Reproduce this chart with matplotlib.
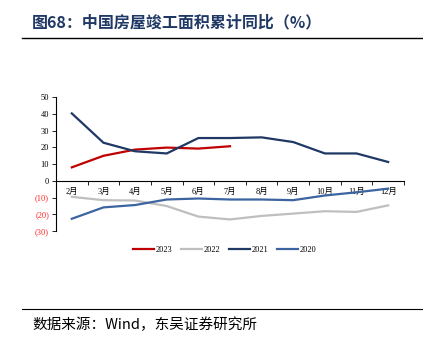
import matplotlib
matplotlib.use("Agg")
import matplotlib.pyplot as plt
from matplotlib.lines import Line2D

months = ["2月", "3月", "4月", "5月", "6月", "7月", "8月", "9月", "10月", "11月", "12月"]
s2023 = [8.0, 14.9, 18.6, 19.8, 19.2, 20.6]
s2022 = [-9.6, -11.6, -11.8, -15.1, -21.4, -23.1, -21.0, -19.6, -18.2, -18.6, -14.7]
s2021 = [40.2, 22.7, 17.6, 16.3, 25.5, 25.5, 25.9, 23.1, 16.3, 16.3, 11.2]
s2020 = [-22.7, -15.9, -14.5, -11.2, -10.6, -11.2, -11.2, -11.6, -8.8, -6.9, -4.7]
series = [("2023", s2023, "#c00000"), ("2022", s2022, "#bfbfbf"),
          ("2021", s2021, "#1f3864"), ("2020", s2020, "#3c64a0")]
yticks = [50, 40, 30, 20, 10, 0, -10, -20, -30]

serif = ["Liberation Serif", "Noto Sans CJK SC"]
cjk = ["Noto Sans CJK SC", "DejaVu Sans"]

fig = plt.figure(figsize=(4.23, 3.49), dpi=100)
ax = fig.add_axes([56/423, 1-231/349, (404-56)/423, (231-97)/349])

x = list(range(len(months)))
for name, vals, col in series:
    ax.plot(x[:len(vals)], vals, color=col, lw=1.6, solid_joinstyle="miter")

ax.set_xlim(-0.5, len(months) - 0.5)
ax.set_ylim(-30, 50)
for s in ["top", "right"]:
    ax.spines[s].set_visible(False)
ax.spines["bottom"].set_position(("data", 0))
ax.spines["bottom"].set_color("black")
ax.spines["bottom"].set_linewidth(0.8)
ax.spines["left"].set_linewidth(0.8)

ax.set_xticks(x)
ax.set_xticklabels(months, fontsize=6, family=serif)
ax.tick_params(axis="x", which="major", length=0, pad=5)
ax.set_xticks([i - 0.5 for i in range(len(months) + 1)], minor=True)
ax.tick_params(axis="x", which="minor", length=3, direction="out", width=0.6)

ax.set_yticks(yticks)
labels = [str(v) if v >= 0 else "(%d)" % abs(v) for v in yticks]
ax.set_yticklabels(labels, fontsize=6, family=serif)
for t, v in zip(ax.get_yticklabels(), yticks):
    if v < 0:
        t.set_color("#ff2020")
ax.tick_params(axis="y", length=3, width=0.6, pad=2)

handles = [Line2D([0], [0], color=c, lw=1.6) for _, _, c in series]
fig.legend(handles, [n for n, _, _ in series], loc="center", bbox_to_anchor=(0.531, 1-250/349),
           ncol=4, frameon=False, prop={"family": serif, "size": 6}, handlelength=2.5,
           handletextpad=0.15, columnspacing=1.1)

fig.text(32/423, 1-22/349, "图68：中国房屋竣工面积累计同比（%）", fontsize=11.5, fontweight="bold",
         color="#1f3864", family=cjk, va="center", ha="left")
fig.add_artist(Line2D([22/423, 1], [1-38/349, 1-38/349], color="black", lw=1.0))
fig.add_artist(Line2D([22/423, 1], [1-309/349, 1-309/349], color="black", lw=0.8))
fig.text(32/423, 1-325/349, "数据来源：Wind，东吴证券研究所", fontsize=10.5, color="black",
         family=["Noto Sans CJK SC", "Liberation Serif"], va="center", ha="left")

fig.savefig("out.png", dpi=100)
